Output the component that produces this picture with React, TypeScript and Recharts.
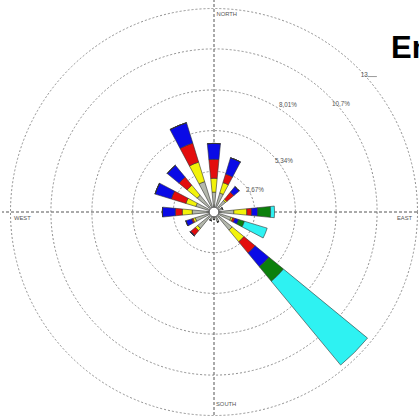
import React from 'react';
import { RadialBarChart, RadialBar, PolarAngleAxis, PolarRadiusAxis, PolarGrid } from 'recharts';

const directions = ['N', 'NNE', 'NE', 'ENE', 'E', 'ESE', 'SE', 'SSE', 'S', 'SSW', 'SW', 'WSW', 'W', 'WNW', 'NW', 'NNW'];
const speedGray = [1.31, 1.31, 0.98, 0.6, 1.31, 1.18, 1.55, 0.7, 0.5, 0.6, 1.4, 1.3, 1.44, 1.25, 1.44, 2.1];
const speedYellow = [0.92, 0.72, 0.12, 0, 0.86, 0.12, 1.01, 0, 0, 0, 0.2, 0.15, 0.66, 0.69, 0.86, 1.35];
const speedRed = [1.25, 0.59, 0.6, 0, 0.32, 0.14, 0.96, 0, 0, 0, 0.4, 0.1, 0.46, 1.01, 0.69, 1.31];
const speedBlue = [1.05, 1.12, 0.47, 0, 0.4, 0.26, 1.18, 0, 0, 0, 0.05, 0.4, 0.85, 1.12, 1.01, 1.41];
const speedGreen = [0, 0, 0, 0, 0.85, 0.4, 1.24, 0, 0, 0, 0, 0, 0, 0, 0, 0];
const speedCyan = [0, 0, 0, 0, 0.26, 1.57, 7.18, 0, 0, 0, 0, 0, 0, 0, 0, 0];

const ringTicks = [2.67, 5.34, 8.01, 10.7, 13.35];
const ringLabels = ['2,67%', '5,34%', '8,01%', '10,7%', '13'];
const titleText = 'En';

const W = 419;
const H = 417;
const CX = 214;
const CY = 212;
const OUTER = 212;
const RMAX = (13.35 * OUTER) / 203.5;

const data = directions.map((dir, i) => ({
  dir,
  gray: speedGray[i],
  yellow: speedYellow[i],
  red: speedRed[i],
  blue: speedBlue[i],
  green: speedGreen[i],
  cyan: speedCyan[i],
}));

const series = [
  { key: 'gray', color: '#b3b7ab' },
  { key: 'yellow', color: '#f2f20a' },
  { key: 'red', color: '#e30d0d' },
  { key: 'blue', color: '#0a0ae6' },
  { key: 'green', color: '#0b800b' },
  { key: 'cyan', color: '#2ef2f2' },
];

const labelOffsets: [number, number][] = [
  [1, 6],
  [-1, 3],
  [-28, -27],
  [-6, -2],
  [-8, -5],
];

const RingTick = (props: any) => {
  const { x, y, payload } = props;
  const i = ringTicks.indexOf(payload.value);
  if (i < 0) return null;
  const [dx, dy] = labelOffsets[i];
  const tx = x + dx;
  const ty = y + dy;
  return (
    <g>
      <text x={tx} y={ty} fontSize={6.3} fill="#555" fontFamily="Liberation Sans, Arial, sans-serif">
        {ringLabels[i]}
      </text>
      {i === ringTicks.length - 1 ? (
        <line x1={tx + 7} y1={ty - 0.5} x2={tx + 16} y2={ty - 0.5} stroke="#555" strokeWidth={0.6} />
      ) : null}
    </g>
  );
};

const ringRadii = ringTicks.map((v) => (v / RMAX) * OUTER);
const labelStyle = { fontSize: 5.8, fill: '#555', fontFamily: 'Liberation Sans, Arial, sans-serif' };

export default function App() {
  return (
    <div style={{ position: 'absolute', left: 0, top: 0, width: W, height: H, background: '#fff', overflow: 'hidden' }}>
      <RadialBarChart
        width={W}
        height={H}
        data={data}
        layout="centric"
        cx={CX}
        cy={CY}
        innerRadius={0}
        outerRadius={OUTER}
        startAngle={78.75}
        endAngle={-281.25}
        barCategoryGap="26%"
        margin={{ top: 0, right: 0, bottom: 0, left: 0 }}
      >
        <PolarGrid gridType="circle" radialLines={false} polarRadius={ringRadii} polarAngles={[]} stroke="#8f8f8f" strokeDasharray="2 2" />
        <PolarGrid gridType="circle" radialLines={true} polarRadius={[]} polarAngles={[90, 0, 270, 180]} stroke="#555" strokeDasharray="3 2" />
        <PolarAngleAxis dataKey="dir" type="category" tick={false} axisLine={false} tickLine={false} />
        <PolarRadiusAxis
          type="number"
          domain={[0, RMAX]}
          allowDataOverflow
          ticks={ringTicks}
          angle={40}
          axisLine={false}
          tickLine={false}
          tick={<RingTick />}
        />
        {series.map((s) => (
          <RadialBar
            key={s.key}
            dataKey={s.key}
            stackId="a"
            fill={s.color}
            stroke="#333"
            strokeWidth={0.6}
            isAnimationActive={false}
          />
        ))}
        <text x={216.5} y={16.3} {...labelStyle}>NORTH</text>
        <text x={14} y={220.3} {...labelStyle}>WEST</text>
        <text x={397} y={220.3} {...labelStyle}>EAST</text>
        <text x={216} y={405.8} {...labelStyle}>SOUTH</text>
        <text x={391} y={58} fontSize={31} fontWeight="bold" fill="#000" fontFamily="Liberation Sans, Arial, sans-serif">
          {titleText}
        </text>
      </RadialBarChart>
      <svg width={W} height={H} style={{ position: 'absolute', left: 0, top: 0, pointerEvents: 'none' }}>
        <circle cx={CX} cy={CY} r={4.8} fill="#fff" stroke="#555" strokeWidth={0.9} />
      </svg>
    </div>
  );
}
